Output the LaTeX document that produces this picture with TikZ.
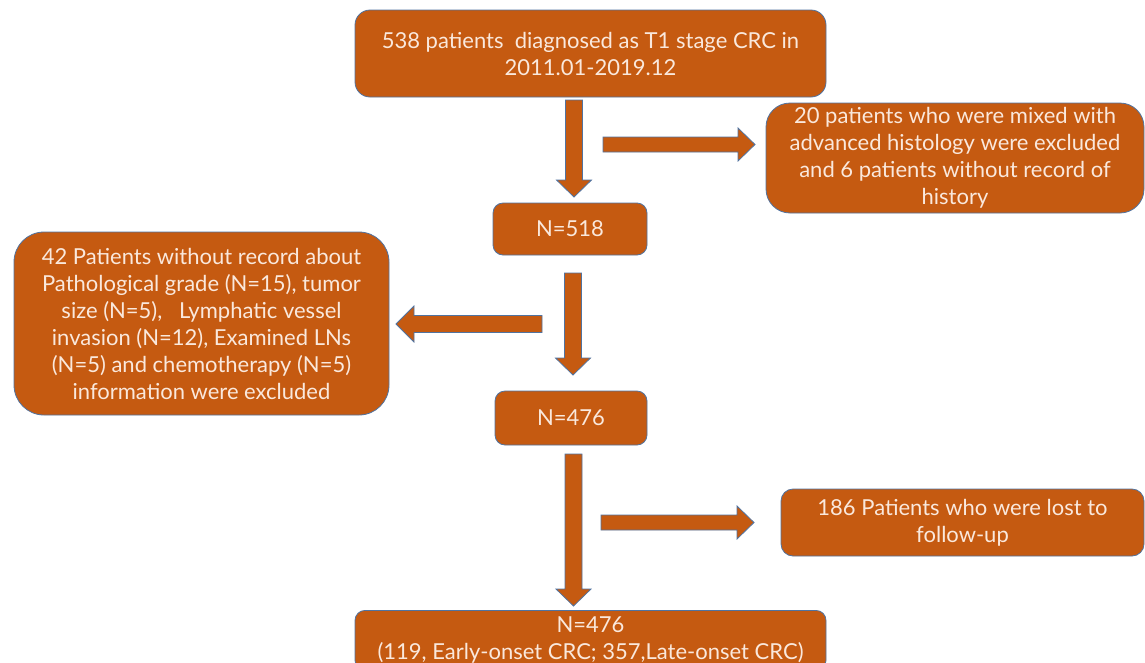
\documentclass[tikz,border=0pt]{standalone}
\usepackage{fontspec}
\setmainfont{Lato}
\usetikzlibrary{calc}
\definecolor{boxfill}{RGB}{197,90,17}
\definecolor{boxline}{RGB}{80,115,160}
\definecolor{boxtext}{RGB}{250,232,220}
\tikzset{
 flowbox/.style={draw=boxline, line width=0.8pt, fill=boxfill, text=boxtext, align=center, inner sep=0pt, font=\fontsize{22}{27}\selectfont},
 barrow/.style={draw=boxline, line width=0.8pt, fill=boxfill},
}
\newcommand\downblock[2]{\draw[barrow] ($(#1)+(-8.5,0)$) -- ($(#2)+(-8.5,-17)$) -- ($(#2)+(-17.5,-17)$) -- (#2) -- ($(#2)+(17.5,-17)$) -- ($(#2)+(8.5,-17)$) -- ($(#1)+(8.5,0)$) -- cycle;}
\newcommand\rightblock[2]{\draw[barrow] ($(#1)+(0,-7.5)$) -- ($(#2)+(-17,-7.5)$) -- ($(#2)+(-17,-16.5)$) -- (#2) -- ($(#2)+(-17,16.5)$) -- ($(#2)+(-17,7.5)$) -- ($(#1)+(0,7.5)$) -- cycle;}
\newcommand\leftblock[2]{\draw[barrow] ($(#1)+(0,-8.5)$) -- ($(#2)+(18,-8.5)$) -- ($(#2)+(18,-18)$) -- (#2) -- ($(#2)+(18,18)$) -- ($(#2)+(18,8.5)$) -- ($(#1)+(0,8.5)$) -- cycle;}
\begin{document}
\begin{tikzpicture}[x=1pt,y=-1pt]
\fill[white] (0,0) rectangle (1145,662);
\clip (0,0) rectangle (1145,662);
\node[flowbox, minimum width=471pt, minimum height=87pt, rounded corners=15pt] (top) at (590.5,53.5)
 {538 patients\ \ diagnosed as T1 stage CRC in\\2011.01-2019.12};
\node[flowbox, minimum width=378pt, minimum height=110pt, rounded corners=24pt] (ex1) at (955,158)
 {20 patients who were mixed with\\advanced histology were excluded\\and 6 patients without record of\\history};
\node[flowbox, minimum width=154pt, minimum height=52pt, rounded corners=10pt] (n518) at (570,229) {N=518};
\node[flowbox, minimum width=375pt, minimum height=183pt, rounded corners=30pt] (ex2) at (201.5,323.5)
 {42 Patients without record about\\Pathological grade (N=15), tumor\\size (N=5),\ \ \ Lymphatic vessel\\invasion (N=12), Examined LNs\\(N=5) and chemotherapy (N=5)\\information were excluded};
\node[flowbox, minimum width=152pt, minimum height=54pt, rounded corners=10pt] (n476) at (571,418) {N=476};
\node[flowbox, minimum width=363pt, minimum height=67pt, rounded corners=12pt] (ex3) at (962.5,522.5)
 {186 Patients who were lost to\\follow-up};
\node[flowbox, minimum width=471pt, minimum height=60pt, rounded corners=10pt, anchor=north] (final) at (590.5,610)
 {N=476\\(119, Early-onset CRC; 357,Late-onset CRC)};
% connectors
\coordinate (a1s) at (574,100);   \coordinate (a1t) at (574,197);
\coordinate (a2s) at (603,144.5); \coordinate (a2t) at (755,144.5);
\coordinate (a3s) at (573,273);   \coordinate (a3t) at (573,375);
\coordinate (a4s) at (542,324);   \coordinate (a4t) at (396,324);
\coordinate (a5s) at (573.5,454); \coordinate (a5t) at (573.5,606);
\coordinate (a6s) at (601,522.5); \coordinate (a6t) at (754,522.5);
\downblock{a1s}{a1t}
\rightblock{a2s}{a2t}
\downblock{a3s}{a3t}
\leftblock{a4s}{a4t}
\downblock{a5s}{a5t}
\rightblock{a6s}{a6t}
\end{tikzpicture}
\end{document}
